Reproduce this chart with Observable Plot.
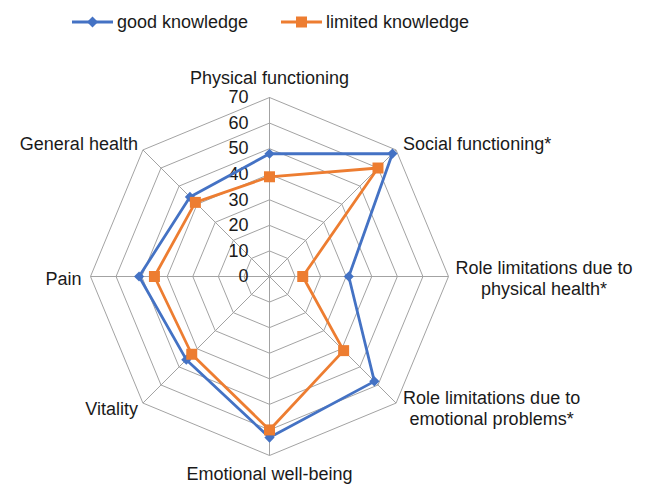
<!DOCTYPE html>
<html><head><meta charset="utf-8">
<script src="https://cdn.jsdelivr.net/npm/d3@7"></script>
<script src="https://cdn.jsdelivr.net/npm/@observablehq/plot@0.6"></script>
<style>
body{margin:0;background:#fff;font-family:"Liberation Sans",Arial,sans-serif;}
#legend{height:44px;position:relative;font-size:18px;color:#1a1a1a;width:646px}
.item{position:absolute;top:11px;display:flex;align-items:center;height:22px;white-space:nowrap}
.item svg{margin-right:4px}
</style></head><body>
<div id="legend"></div>
<div id="chart"></div>
<script>
// ---- data ----
const categories = [
  "Physical functioning",
  "Social functioning*",
  "Role limitations due to\nphysical health*",
  "Role limitations due to\nemotional problems*",
  "Emotional well-being",
  "Vitality",
  "Pain",
  "General health"
];
const goodKnowledge    = [48, 68, 31, 58, 63, 46, 51, 44];
const limitedKnowledge = [39, 60, 13, 41, 60, 43, 45, 41];
const seriesNames = ["good knowledge", "limited knowledge"];
const tickValues = [0, 10, 20, 30, 40, 50, 60, 70];

// ---- styling ----
const colors = ["#4472C4", "#ED7D31"];
const symbols = ["diamond2", "square"];
const symbolR = [4.6, 6.2];
const gridColor = "#a3a3a3";
const textColor = "#1a1a1a";
const fontSize = 18;
const maxV = 70;
const cx = 269, cy = 232, R = 179; // pixel center / radius of outer ring
const pxPerUnit = R / maxV;

const n = categories.length;
const ang = i => i * 2 * Math.PI / n;
const px = (r, i) => r * Math.sin(ang(i));
const py = (r, i) => r * Math.cos(ang(i));

// grid rings
const rings = [];
tickValues.filter(t => t > 0).forEach(t => {
  for (let i = 0; i <= n; i++) rings.push({t, x: px(t, i % n), y: py(t, i % n)});
});
const spokes = categories.map((c, i) => ({x2: px(maxV, i), y2: py(maxV, i)}));

// series
const series = [goodKnowledge, limitedKnowledge];
const seriesPts = series.map((vals, s) =>
  vals.map((v, i) => ({s: seriesNames[s], cat: categories[i], v, x: px(v, i), y: py(v, i)})));

// label positions (computed from angle + measured text width)
const ctx = document.createElement("canvas").getContext("2d");
ctx.font = `${fontSize}px "Liberation Sans", Arial, sans-serif`;
const labels = categories.map((c, i) => {
  const s = Math.sin(ang(i)), co = Math.cos(ang(i));
  const w = Math.max(...c.split("\n").map(l => ctx.measureText(l).width));
  let dxp = 0, dyp = 0; // pixel offsets, dy positive = up
  if (Math.abs(s) < 0.1) {
    dyp = co > 0 ? 20 : -18;
  } else {
    const side = s > 0 ? 1 : -1;
    dxp = side * (Math.abs(co) < 0.1 ? (s > 0 ? 7 : 9) : (s > 0 ? 7 : 5)) + side * w / 2;
    dyp = Math.abs(co) < 0.1 ? -1.5 : (co > 0 ? 7 : -5);
  }
  return {label: c, x: px(maxV, i) + dxp / pxPerUnit, y: py(maxV, i) + dyp / pxPerUnit};
});

const marks = [
  Plot.line(rings, {x: "x", y: "y", z: "t", stroke: gridColor, strokeWidth: 1}),
  Plot.link(spokes, {x1: 0, y1: 0, x2: "x2", y2: "y2", stroke: gridColor, strokeWidth: 1}),
  Plot.text(tickValues, {x: 0, y: d => d, text: d => String(d), textAnchor: "end", dx: -21, fontSize, fill: textColor}),
];
seriesPts.forEach((pts, s) => {
  marks.push(Plot.line([...pts, pts[0]], {x: "x", y: "y", stroke: colors[s], strokeWidth: 2.8, strokeLinejoin: "round"}));
  marks.push(Plot.dot(pts, {x: "x", y: "y", symbol: symbols[s], r: symbolR[s], fill: colors[s], stroke: "none"}));
});
marks.push(Plot.text(labels, {x: "x", y: "y", text: "label", textAnchor: "middle", lineAnchor: "middle", lineHeight: 1.17, fontSize, fill: textColor}));

const chart = Plot.plot({
  width: 646,
  height: 440,
  margin: 0,
  style: {fontFamily: '"Liberation Sans", Arial, sans-serif', background: "#fff", overflow: "visible"},
  x: {domain: [-maxV, maxV], range: [cx - R, cx + R], axis: null},
  y: {domain: [-maxV, maxV], range: [cy + R, cy - R], axis: null},
  marks
});
document.getElementById("chart").appendChild(chart);

// legend
const legend = document.getElementById("legend");
const lefts = [72, 281];
seriesNames.forEach((name, s) => {
  const item = document.createElement("div");
  item.className = "item";
  item.style.left = lefts[s] + "px";
  const sym = s === 0
    ? `<path d="M20.5,5.5 L26,11 L20.5,16.5 L15,11 Z" fill="${colors[s]}"/>`
    : `<rect x="15" y="5.5" width="11" height="11" fill="${colors[s]}"/>`;
  item.innerHTML = `<svg width="41" height="22"><line x1="0" x2="41" y1="11" y2="11" stroke="${colors[s]}" stroke-width="2.8"/>${sym}</svg><span>${name}</span>`;
  legend.appendChild(item);
});
</script>
</body></html>
